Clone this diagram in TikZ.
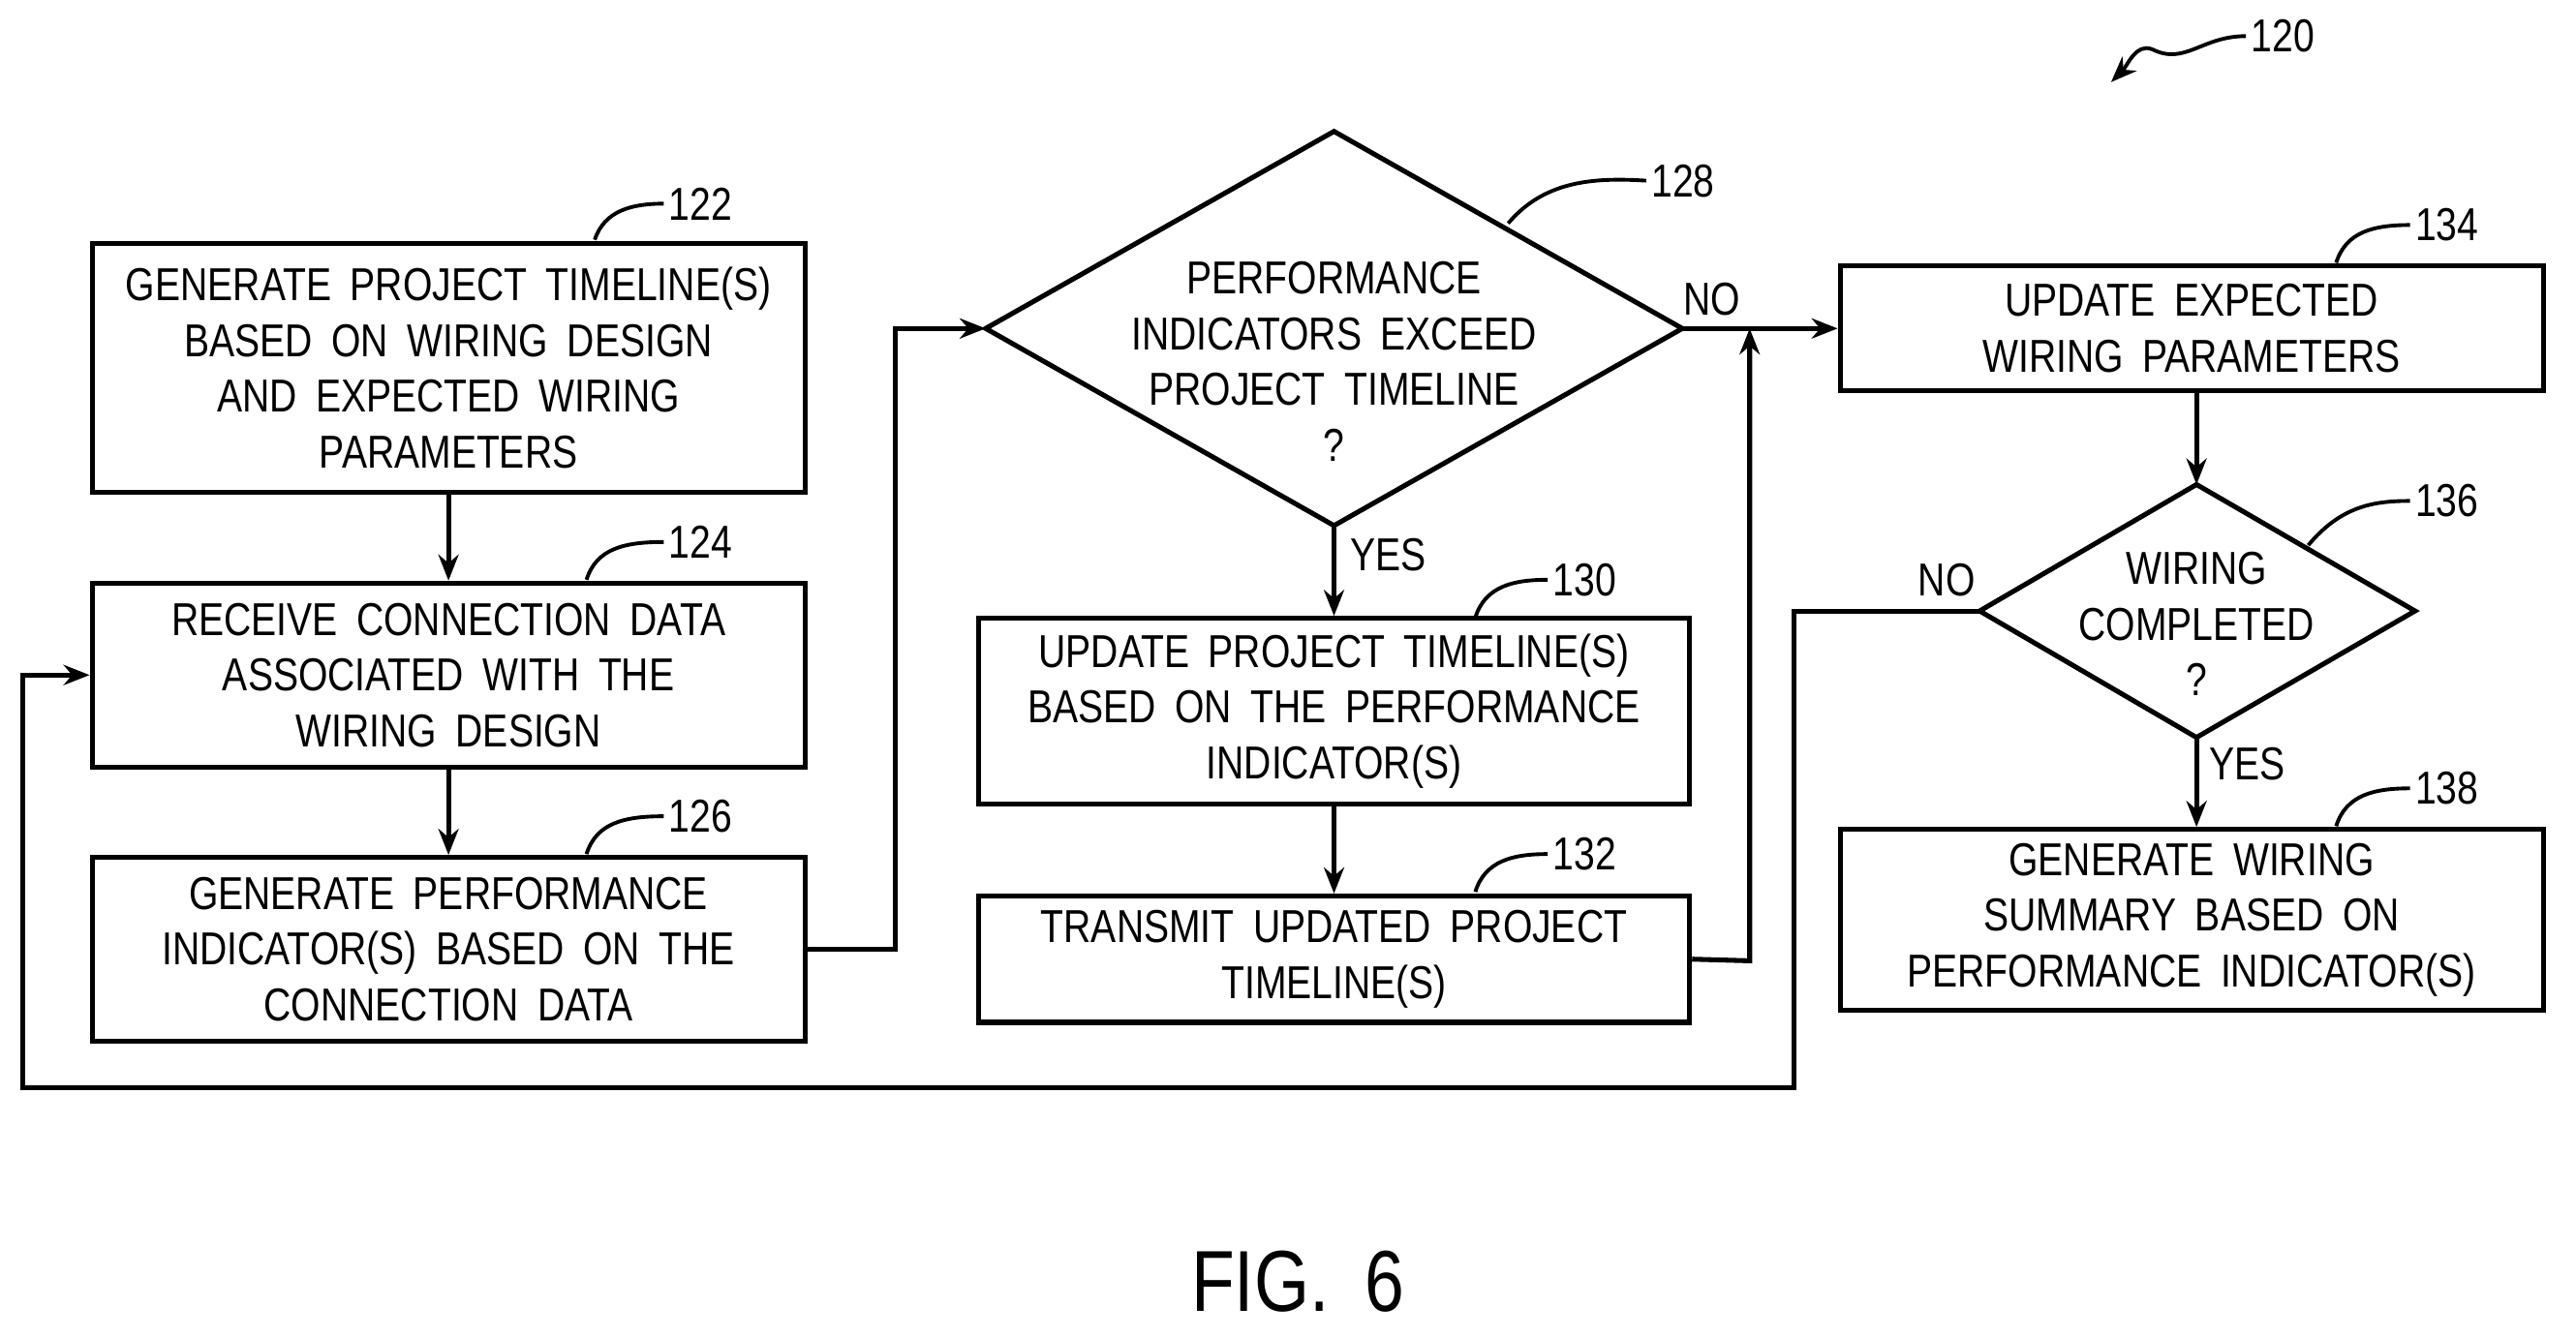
\documentclass[tikz,border=0pt]{standalone}
\usepackage{fontspec}
\setmainfont{Liberation Sans}[FakeStretch=0.82,WordSpace=1.8]
\usetikzlibrary{shapes.geometric,arrows.meta}
\begin{document}
\begin{tikzpicture}[x=0.02cm,y=-0.02cm,line width=1.7pt,
  every node/.style={font=\fontsize{16}{19.3}\selectfont},
  box/.style={draw,rectangle,align=center,inner sep=0pt},
  txt/.style={align=center,inner sep=0pt},
  arr/.style={-{Stealth[length=9pt,width=7pt]}},
  lead/.style={line width=1.3pt},
  ref/.style={anchor=west,inner sep=1pt}]
\useasboundingbox (0,0) rectangle (1568,814);
\node[box,minimum width=8.68cm,minimum height=3.04cm] (b122) at (273,224) {GENERATE PROJECT TIMELINE(S)\\BASED ON WIRING DESIGN\\AND EXPECTED WIRING\\PARAMETERS};
\node[box,minimum width=8.68cm,minimum height=2.24cm] (b124) at (273,411) {RECEIVE CONNECTION DATA\\ASSOCIATED WITH THE\\WIRING DESIGN};
\node[box,minimum width=8.68cm,minimum height=2.24cm] (b126) at (273,578) {GENERATE PERFORMANCE\\INDICATOR(S) BASED ON THE\\CONNECTION DATA};
% diamond 128
\coordinate (d128w) at (600,200); \coordinate (d128n) at (812,80);
\coordinate (d128e) at (1024,200); \coordinate (d128s) at (812,320);
\draw (d128w) -- (d128n) -- (d128e) -- (d128s) -- cycle;
\node[txt] (t128) at (812,220) {PERFORMANCE\\INDICATORS EXCEED\\PROJECT TIMELINE\\?};
\node[box,minimum width=8.66cm,minimum height=2.26cm] (b130) at (812,433) {UPDATE PROJECT TIMELINE(S)\\BASED ON THE PERFORMANCE\\INDICATOR(S)};
\node[box,minimum width=8.66cm,minimum height=1.54cm] (b132) at (812,584) {TRANSMIT UPDATED PROJECT\\TIMELINE(S)};
\node[box,minimum width=8.56cm,minimum height=1.52cm] (b134) at (1334,200) {UPDATE EXPECTED\\WIRING PARAMETERS};
% diamond 136
\coordinate (d136w) at (1205,372); \coordinate (d136n) at (1337,295);
\coordinate (d136e) at (1470,372); \coordinate (d136s) at (1337,449);
\draw (d136w) -- (d136n) -- (d136e) -- (d136s) -- cycle;
\node[txt] (t136) at (1337,380) {WIRING\\COMPLETED\\?};
\node[box,minimum width=8.56cm,minimum height=2.2cm] (b138) at (1334,560) {GENERATE WIRING\\SUMMARY BASED ON\\PERFORMANCE INDICATOR(S)};
\coordinate (j1) at (1065,200);
\draw[arr] (b122) -- (b124);
\draw[arr] (b124) -- (b126);
\draw[arr] (b126.east) -- (545,578) -- (545,200) -- (d128w);
\draw[arr] (d128e) -- (b134.west);
\draw[arr] (b132.east) -- (1065,585) -- (j1);
\draw[arr] (d128s) -- (b130.north);
\draw[arr] (b130) -- (b132);
\draw[arr] (d136n |- b134.south) -- (d136n);
\draw[arr] (d136s) -- (d136s |- b138.north);
\draw[arr] (d136w) -- (1092,372) -- (1092,662) -- (14,662) -- (14,411) -- (b124.west);
\node at (1042,182) {NO};
\node at (845,338) {YES};
\node at (1185,353) {NO};
\node at (1368,465) {YES};
\node[ref] (r122) at (404,124) {122};
\draw[lead] (362,146) .. controls (368,128) and (385,124) .. (r122.west);
\node[ref] (r124) at (404,330) {124};
\draw[lead] (357,353) .. controls (363,334) and (380,330) .. (r124.west);
\node[ref] (r126) at (404,497) {126};
\draw[lead] (357,520) .. controls (363,501) and (380,497) .. (r126.west);
\node[ref] (r128) at (1002,110) {128};
\draw[lead] (918,136) .. controls (940,110) and (970,108) .. (r128.west);
\node[ref] (r130) at (942,353) {130};
\draw[lead] (898,376) .. controls (904,357) and (921,353) .. (r130.west);
\node[ref] (r132) at (942,520) {132};
\draw[lead] (898,543) .. controls (904,524) and (921,520) .. (r132.west);
\node[ref] (r134) at (1467,137) {134};
\draw[lead] (1422,160) .. controls (1428,141) and (1445,137) .. (r134.west);
\node[ref] (r136) at (1467,305) {136};
\draw[lead] (1405,332) .. controls (1425,308) and (1445,305) .. (r136.west);
\node[ref] (r138) at (1467,480) {138};
\draw[lead] (1422,503) .. controls (1428,484) and (1445,480) .. (r138.west);
\node[ref] (r120) at (1367,22) {120};
\draw[lead,arr] (r120.west) .. controls (1340,22) and (1330,40) .. (1310,30) .. controls (1300,26) and (1295,40) .. (1285,50);
\node[font=\fontsize{30}{36}\selectfont] (fig) at (790,780) {FIG. 6};
\end{tikzpicture}
\end{document}
